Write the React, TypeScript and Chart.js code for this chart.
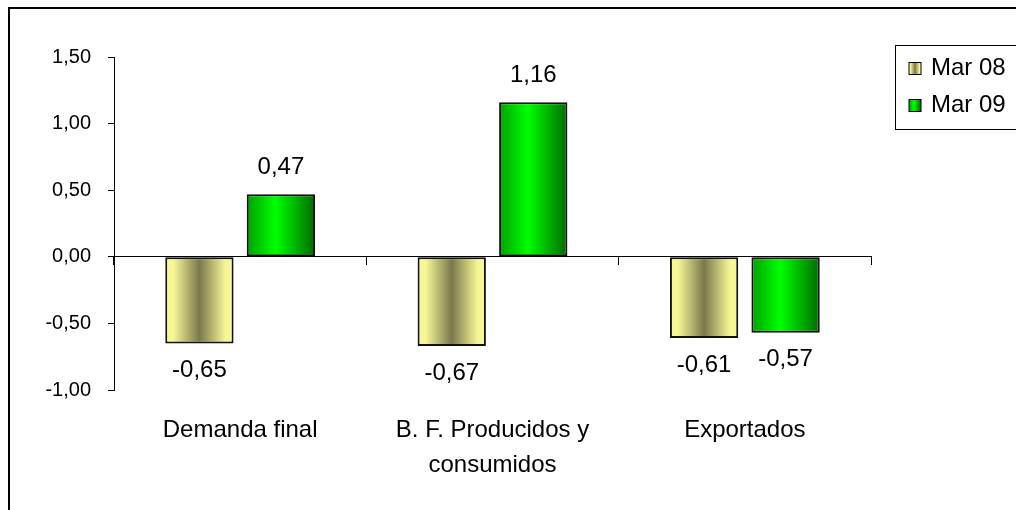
import React, { useEffect, useRef } from "react";
import { Chart, registerables } from "chart.js";

Chart.register(...registerables);

const categories: (string | string[])[] = [
  "Demanda final",
  ["B. F. Producidos y", "consumidos"],
  "Exportados",
];
const seriesNames = ["Mar 08", "Mar 09"];
const mar08 = [-0.65, -0.67, -0.61];
const mar09 = [0.47, 1.16, -0.57];
const yTicks = [-1.0, -0.5, 0.0, 0.5, 1.0, 1.5];

const CAT_PCT = 0.646;
const BAR_PCT = 0.838;
const FONT = "'Liberation Sans', Arial, sans-serif";

const gradientStops: [number, string][][] = [
  [
    [0, "#F8F89A"],
    [0.12, "#F6F696"],
    [0.5, "#7A784C"],
    [0.88, "#F6F696"],
    [1, "#F8F89A"],
  ],
  [
    [0, "#00A000"],
    [0.42, "#00FF00"],
    [1, "#006A00"],
  ],
];
const fallback = ["#C8C878", "#00CC00"];

const fmt = (v: number) => v.toFixed(2).replace(".", ",");

function makeGradient(c: CanvasRenderingContext2D, left: number, right: number, idx: number) {
  const g = c.createLinearGradient(left, 0, right, 0);
  gradientStops[idx].forEach(([o, col]) => g.addColorStop(o, col));
  return g;
}

function barFill(context: any) {
  const chart = context.chart;
  const ds = context.datasetIndex;
  if (context.type !== "data" || !chart.chartArea || !chart.scales.x) return fallback[ds];
  const xs = chart.scales.x;
  const n = chart.data.labels.length;
  const catW = xs.width / n;
  const center = xs.getPixelForValue(context.dataIndex);
  const nd = chart.data.datasets.length;
  const slot = (catW * CAT_PCT) / nd;
  const barCenter = center - (catW * CAT_PCT) / 2 + slot * (ds + 0.5);
  const w = slot * BAR_PCT;
  return makeGradient(chart.ctx, barCenter - w / 2, barCenter + w / 2, ds);
}

const framePlugin = {
  id: "frame",
  beforeDraw(chart: any) {
    const c = chart.ctx;
    c.save();
    c.fillStyle = "#fff";
    c.fillRect(0, 0, chart.width, chart.height);
    c.strokeStyle = "#000";
    c.lineWidth = 2;
    c.beginPath();
    c.moveTo(9, chart.height + 2);
    c.lineTo(9, 8);
    c.lineTo(chart.width + 2, 8);
    c.stroke();
    c.restore();
  },
};

const labelPlugin = {
  id: "valueLabels",
  afterDatasetsDraw(chart: any) {
    const c = chart.ctx;
    c.save();
    c.font = `24px ${FONT}`;
    c.fillStyle = "#000";
    c.textAlign = "center";
    c.textBaseline = "middle";
    chart.data.datasets.forEach((d: any, di: number) => {
      const meta = chart.getDatasetMeta(di);
      meta.data.forEach((el: any, i: number) => {
        const v = d.data[i];
        const y = v >= 0 ? el.y - 27 : el.y + 27;
        c.fillText(fmt(v), el.x, y);
      });
    });
    c.restore();
  },
};

const legendPlugin = {
  id: "customLegend",
  afterDraw(chart: any) {
    const c = chart.ctx;
    const left = chart.chartArea.right + 24.5;
    const top = chart.chartArea.top - 11.5;
    c.save();
    c.strokeStyle = "#000";
    c.lineWidth = 1;
    c.strokeRect(left, top, 140, 84);
    c.font = `24px ${FONT}`;
    c.textAlign = "left";
    c.textBaseline = "middle";
    seriesNames.forEach((name, i) => {
      const cy = top + 23 + i * 37;
      const sx = left + 13.5;
      const sq = 12;
      c.fillStyle = makeGradient(c, sx, sx + sq, i);
      c.fillRect(sx, cy - sq / 2, sq, sq);
      c.strokeStyle = "#000";
      c.lineWidth = 1;
      c.strokeRect(sx, cy - sq / 2, sq, sq);
      c.fillStyle = "#000";
      c.fillText(name, sx + 22, cy);
    });
    c.restore();
  },
};

export default function App() {
  const ref = useRef<HTMLCanvasElement | null>(null);

  useEffect(() => {
    document.body.style.margin = "0";
    document.body.style.overflow = "hidden";
    if (!ref.current) return;
    const chart = new Chart(ref.current, {
      type: "bar",
      data: {
        labels: categories as any,
        datasets: [
          {
            label: seriesNames[0],
            data: mar08,
            backgroundColor: barFill,
            borderColor: "#111",
            borderWidth: 2,
            borderSkipped: false,
          },
          {
            label: seriesNames[1],
            data: mar09,
            backgroundColor: barFill,
            borderColor: "#111",
            borderWidth: 2,
            borderSkipped: false,
          },
        ],
      },
      options: {
        responsive: false,
        animation: false,
        datasets: { bar: { categoryPercentage: CAT_PCT, barPercentage: BAR_PCT } } as any,
        layout: { padding: { left: 0, top: 57, right: 145, bottom: 0 } },
        plugins: { legend: { display: false }, tooltip: { enabled: false } },
        scales: {
          x: {
            type: "category",
            offset: true,
            grid: { display: false, drawTicks: false, offset: true },
            border: { display: false },
            ticks: {
              color: "#000",
              font: { family: FONT, size: 24, lineHeight: 1.45 },
              padding: 23,
              maxRotation: 0,
              minRotation: 0,
              autoSkip: false,
            },
            afterFit: (s: any) => {
              s.height = 120;
            },
          },
          x2: {
            type: "category",
            axis: "x",
            position: { y: 0 } as any,
            offset: true,
            grid: {
              offset: true,
              drawOnChartArea: false,
              drawTicks: true,
              tickLength: 8,
              color: "#000",
              lineWidth: 1,
            },
            border: { display: true, color: "#000", width: 1 },
            ticks: { display: false },
          } as any,
          y: {
            min: -1,
            max: 1.5,
            afterBuildTicks: (s: any) => {
              s.ticks = yTicks.map((v) => ({ value: v }));
            },
            grid: {
              drawOnChartArea: false,
              drawTicks: true,
              tickLength: 6,
              color: "#000",
            },
            border: { display: true, color: "#000", width: 1 },
            ticks: {
              color: "#000",
              font: { family: FONT, size: 20 },
              padding: 17,
              callback: (v: any) => fmt(Number(v)),
            },
            afterFit: (s: any) => {
              s.width = 114;
            },
          },
        },
      },
      plugins: [framePlugin, labelPlugin, legendPlugin],
    });
    return () => chart.destroy();
  }, []);

  return (
    <div style={{ width: 1016, height: 510 }}>
      <canvas ref={ref} width={1016} height={510} style={{ display: "block" }} />
    </div>
  );
}
